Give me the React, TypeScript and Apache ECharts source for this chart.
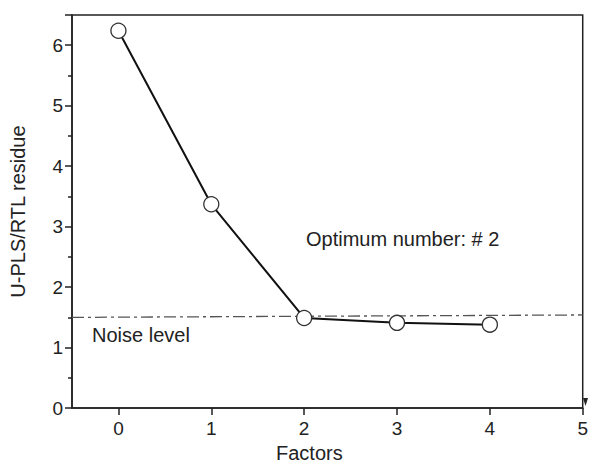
import React, { useEffect, useRef } from "react";
import * as echarts from "echarts";

const factors = [0, 1, 2, 3, 4];
const residues = [6.24, 3.37, 1.49, 1.41, 1.38];
const noiseX = [-0.5, 5];
const noiseY = [1.5, 1.54];
const xTicks = [0, 1, 2, 3, 4, 5];

export default function App() {
  const ref = useRef<HTMLDivElement>(null);
  useEffect(() => {
    const chart = echarts.init(ref.current!, null, { renderer: "svg" });
    const font = "Liberation Sans, Arial, sans-serif";
    chart.setOption({
      animation: false,
      backgroundColor: "#fff",
      grid: { left: 72, right: 5, top: 15, bottom: 56, show: true, borderColor: "#222", borderWidth: 1.5, backgroundColor: "transparent" },
      xAxis: {
        type: "value",
        min: -0.5,
        max: 5,
        name: "Factors",
        nameLocation: "middle",
        nameGap: 34,
        nameTextStyle: { fontFamily: font, fontSize: 20, color: "#222", padding: [0, 36, 0, 0] },
        axisLine: { show: true, onZero: false, lineStyle: { color: "#222", width: 1.5 } },
        axisTick: { show: true, customValues: xTicks, length: 7, lineStyle: { color: "#222", width: 1.5 } },
        axisLabel: { customValues: xTicks, margin: 11, fontFamily: font, fontSize: 19, color: "#222" },
        splitLine: { show: false },
      },
      yAxis: {
        type: "value",
        min: 0,
        max: 6.5,
        interval: 1,
        name: "U-PLS/RTL residue",
        nameLocation: "middle",
        nameGap: 44,
        nameTextStyle: { fontFamily: font, fontSize: 20, color: "#222" },
        axisLine: { show: true, onZero: false, lineStyle: { color: "#222", width: 1.5 } },
        axisTick: { show: true, length: 7, lineStyle: { color: "#222", width: 1.5 } },
        minorTick: { show: true, splitNumber: 2, length: 4, lineStyle: { color: "#222", width: 1.5 } },
        axisLabel: { margin: 9, fontFamily: font, fontSize: 19, color: "#222", showMaxLabel: false },
        splitLine: { show: false },
      },
      series: [
        {
          type: "line",
          data: noiseX.map((x, i) => [x, noiseY[i]]),
          showSymbol: false,
          symbol: "none",
          lineStyle: { color: "#555", width: 1.3, type: [12, 4, 3, 4] },
          z: 1,
        },
        {
          type: "line",
          data: factors.map((f, i) => [f, residues[i]]),
          symbol: "circle",
          symbolSize: 15,
          lineStyle: { color: "#111", width: 2 },
          itemStyle: { color: "#fff", borderColor: "#333", borderWidth: 1.3 },
          z: 3,
        },
      ],
      graphic: [
        { type: "text", left: 306, top: 229, style: { text: "Optimum number: # 2", fontFamily: font, fontSize: 20, fill: "#222" } },
        { type: "text", left: 92, top: 325, style: { text: "Noise level", fontFamily: font, fontSize: 20, fill: "#222" } },
        { type: "polygon", shape: { points: [[583, 398], [588, 398], [585.5, 406]] }, style: { fill: "#222" } },
      ],
    });
    return () => chart.dispose();
  }, []);
  return <div ref={ref} style={{ width: 591, height: 468, position: "absolute", left: 0, top: 0 }} />;
}
